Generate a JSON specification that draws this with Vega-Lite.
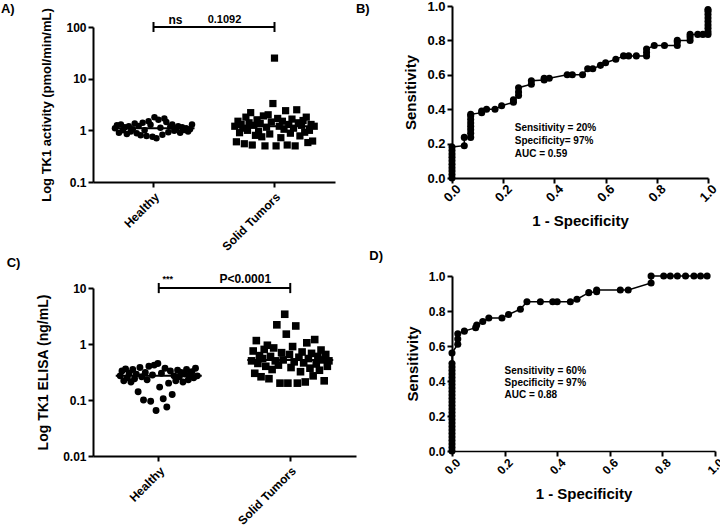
{
  "$schema": "https://vega.github.io/schema/vega-lite/v6.json",
  "background": "white",
  "padding": {"left": 0, "top": 0, "right": 0, "bottom": 0},
  "config": {
    "view": {"stroke": null},
    "axis": {"domainColor": "black", "domainWidth": 2, "tickColor": "black", "tickWidth": 2, "tickSize": 5, "grid": false,
      "labelFont": "Liberation Sans", "labelFontWeight": "bold", "labelFontSize": 12, "labelColor": "black", "labelOverlap": false, "labelFlush": false,
      "titleFont": "Liberation Sans", "titleFontWeight": "bold", "titleFontSize": 13, "titleColor": "black"},
    "title": {"font": "Liberation Sans", "fontSize": 13, "fontWeight": "bold", "anchor": "start", "color": "black", "frame": "bounds"},
    "text": {"font": "Liberation Sans", "color": "black"}
  },
  "datasets": {
    "tkA": [
      {"g":"Healthy","v":1.1},{"g":"Healthy","v":1.25},{"g":"Healthy","v":0.9},{"g":"Healthy","v":1.3},{"g":"Healthy","v":1.0},{"g":"Healthy","v":1.15},{"g":"Healthy","v":0.85},{"g":"Healthy","v":1.2},{"g":"Healthy","v":0.95},{"g":"Healthy","v":1.05},
      {"g":"Healthy","v":1.35},{"g":"Healthy","v":0.88},{"g":"Healthy","v":1.22},{"g":"Healthy","v":0.8},{"g":"Healthy","v":1.4},{"g":"Healthy","v":1.0},{"g":"Healthy","v":0.78},{"g":"Healthy","v":1.5},{"g":"Healthy","v":1.28},{"g":"Healthy","v":0.75},
      {"g":"Healthy","v":1.8},{"g":"Healthy","v":0.7},{"g":"Healthy","v":1.6},{"g":"Healthy","v":1.12},{"g":"Healthy","v":0.82},{"g":"Healthy","v":1.7},{"g":"Healthy","v":1.45},{"g":"Healthy","v":0.92},{"g":"Healthy","v":1.18},{"g":"Healthy","v":1.3},
      {"g":"Healthy","v":0.98},{"g":"Healthy","v":1.08},{"g":"Healthy","v":1.2},{"g":"Healthy","v":0.9},{"g":"Healthy","v":1.15},{"g":"Healthy","v":1.02},{"g":"Healthy","v":1.1},{"g":"Healthy","v":0.95},{"g":"Healthy","v":1.05},{"g":"Healthy","v":1.3},
      {"g":"Solid Tumors","v":1.2},{"g":"Solid Tumors","v":0.6},{"g":"Solid Tumors","v":1.5},{"g":"Solid Tumors","v":0.9},{"g":"Solid Tumors","v":1.3},{"g":"Solid Tumors","v":1.1},{"g":"Solid Tumors","v":0.55},{"g":"Solid Tumors","v":1.8},{"g":"Solid Tumors","v":1.0},{"g":"Solid Tumors","v":1.4},
      {"g":"Solid Tumors","v":2.2},{"g":"Solid Tumors","v":0.52},{"g":"Solid Tumors","v":1.25},{"g":"Solid Tumors","v":0.8},{"g":"Solid Tumors","v":1.6},{"g":"Solid Tumors","v":0.95},{"g":"Solid Tumors","v":1.35},{"g":"Solid Tumors","v":0.75},{"g":"Solid Tumors","v":1.9},{"g":"Solid Tumors","v":0.5},
      {"g":"Solid Tumors","v":1.15},{"g":"Solid Tumors","v":2.0},{"g":"Solid Tumors","v":0.85},{"g":"Solid Tumors","v":1.45},{"g":"Solid Tumors","v":3.3},{"g":"Solid Tumors","v":25},{"g":"Solid Tumors","v":0.5},{"g":"Solid Tumors","v":1.7},{"g":"Solid Tumors","v":1.2},{"g":"Solid Tumors","v":0.72},
      {"g":"Solid Tumors","v":1.5},{"g":"Solid Tumors","v":1.05},{"g":"Solid Tumors","v":2.4},{"g":"Solid Tumors","v":0.52},{"g":"Solid Tumors","v":1.3},{"g":"Solid Tumors","v":0.88},{"g":"Solid Tumors","v":1.65},{"g":"Solid Tumors","v":1.1},{"g":"Solid Tumors","v":0.5},{"g":"Solid Tumors","v":2.5},
      {"g":"Solid Tumors","v":1.4},{"g":"Solid Tumors","v":0.78},{"g":"Solid Tumors","v":1.25},{"g":"Solid Tumors","v":1.55},{"g":"Solid Tumors","v":0.92},{"g":"Solid Tumors","v":1.8},{"g":"Solid Tumors","v":0.58},{"g":"Solid Tumors","v":1.0},{"g":"Solid Tumors","v":1.3},{"g":"Solid Tumors","v":0.62},
      {"g":"Solid Tumors","v":1.2}
    ],
    "tkC": [
      {"g":"Healthy","v":0.27},{"g":"Healthy","v":0.33},{"g":"Healthy","v":0.22},{"g":"Healthy","v":0.36},{"g":"Healthy","v":0.25},{"g":"Healthy","v":0.3},{"g":"Healthy","v":0.21},{"g":"Healthy","v":0.35},{"g":"Healthy","v":0.24},{"g":"Healthy","v":0.29},
      {"g":"Healthy","v":0.14},{"g":"Healthy","v":0.38},{"g":"Healthy","v":0.26},{"g":"Healthy","v":0.1},{"g":"Healthy","v":0.31},{"g":"Healthy","v":0.23},{"g":"Healthy","v":0.4},{"g":"Healthy","v":0.095},{"g":"Healthy","v":0.28},{"g":"Healthy","v":0.42},
      {"g":"Healthy","v":0.065},{"g":"Healthy","v":0.45},{"g":"Healthy","v":0.17},{"g":"Healthy","v":0.3},{"g":"Healthy","v":0.105},{"g":"Healthy","v":0.37},{"g":"Healthy","v":0.075},{"g":"Healthy","v":0.2},{"g":"Healthy","v":0.33},{"g":"Healthy","v":0.125},
      {"g":"Healthy","v":0.27},{"g":"Healthy","v":0.22},{"g":"Healthy","v":0.34},{"g":"Healthy","v":0.26},{"g":"Healthy","v":0.31},{"g":"Healthy","v":0.21},{"g":"Healthy","v":0.29},{"g":"Healthy","v":0.35},{"g":"Healthy","v":0.23},{"g":"Healthy","v":0.28},
      {"g":"Healthy","v":0.32},{"g":"Healthy","v":0.25},{"g":"Healthy","v":0.37},{"g":"Healthy","v":0.27},
      {"g":"Solid Tumors","v":0.5},{"g":"Solid Tumors","v":0.75},{"g":"Solid Tumors","v":0.3},{"g":"Solid Tumors","v":1.15},{"g":"Solid Tumors","v":0.45},{"g":"Solid Tumors","v":0.62},{"g":"Solid Tumors","v":0.26},{"g":"Solid Tumors","v":0.55},{"g":"Solid Tumors","v":0.8},{"g":"Solid Tumors","v":0.4},
      {"g":"Solid Tumors","v":0.95},{"g":"Solid Tumors","v":0.24},{"g":"Solid Tumors","v":0.6},{"g":"Solid Tumors","v":0.35},{"g":"Solid Tumors","v":0.85},{"g":"Solid Tumors","v":0.5},{"g":"Solid Tumors","v":2.2},{"g":"Solid Tumors","v":0.42},{"g":"Solid Tumors","v":0.2},{"g":"Solid Tumors","v":0.7},
      {"g":"Solid Tumors","v":0.52},{"g":"Solid Tumors","v":3.4},{"g":"Solid Tumors","v":1.5},{"g":"Solid Tumors","v":0.2},{"g":"Solid Tumors","v":0.65},{"g":"Solid Tumors","v":0.38},{"g":"Solid Tumors","v":0.9},{"g":"Solid Tumors","v":0.48},{"g":"Solid Tumors","v":2.1},{"g":"Solid Tumors","v":0.2},
      {"g":"Solid Tumors","v":0.58},{"g":"Solid Tumors","v":0.32},{"g":"Solid Tumors","v":0.72},{"g":"Solid Tumors","v":0.46},{"g":"Solid Tumors","v":0.21},{"g":"Solid Tumors","v":1.05},{"g":"Solid Tumors","v":0.55},{"g":"Solid Tumors","v":0.37},{"g":"Solid Tumors","v":0.68},{"g":"Solid Tumors","v":0.27},
      {"g":"Solid Tumors","v":1.2},{"g":"Solid Tumors","v":0.44},{"g":"Solid Tumors","v":0.6},{"g":"Solid Tumors","v":0.34},{"g":"Solid Tumors","v":0.78},{"g":"Solid Tumors","v":0.52},{"g":"Solid Tumors","v":0.22},{"g":"Solid Tumors","v":0.65},{"g":"Solid Tumors","v":0.4},{"g":"Solid Tumors","v":0.5}
    ],
    "rocB": [
      {"f":0,"s":0},{"f":0,"s":0.02},{"f":0,"s":0.04},{"f":0,"s":0.06},{"f":0,"s":0.08},{"f":0,"s":0.1},{"f":0,"s":0.12},{"f":0,"s":0.14},{"f":0,"s":0.16},{"f":0,"s":0.18},
      {"f":0.048,"s":0.188},{"f":0.048,"s":0.236},{"f":0.073,"s":0.236},{"f":0.073,"s":0.26},{"f":0.073,"s":0.28},{"f":0.073,"s":0.3},{"f":0.073,"s":0.32},{"f":0.073,"s":0.34},{"f":0.073,"s":0.36},{"f":0.073,"s":0.37},
      {"f":0.116,"s":0.38},{"f":0.116,"s":0.39},{"f":0.135,"s":0.4},{"f":0.168,"s":0.4},{"f":0.194,"s":0.42},{"f":0.24,"s":0.44},{"f":0.24,"s":0.455},{"f":0.26,"s":0.48},{"f":0.26,"s":0.5},{"f":0.26,"s":0.525},
      {"f":0.31,"s":0.545},{"f":0.31,"s":0.565},{"f":0.36,"s":0.57},{"f":0.36,"s":0.58},{"f":0.38,"s":0.58},{"f":0.45,"s":0.6},{"f":0.47,"s":0.6},{"f":0.51,"s":0.6},{"f":0.53,"s":0.635},{"f":0.55,"s":0.635},
      {"f":0.58,"s":0.655},{"f":0.6,"s":0.67},{"f":0.64,"s":0.69},{"f":0.67,"s":0.71},{"f":0.69,"s":0.71},{"f":0.72,"s":0.71},{"f":0.76,"s":0.71},{"f":0.76,"s":0.73},{"f":0.76,"s":0.75},{"f":0.79,"s":0.77},
      {"f":0.83,"s":0.77},{"f":0.88,"s":0.77},{"f":0.88,"s":0.79},{"f":0.88,"s":0.8},{"f":0.93,"s":0.8},{"f":0.93,"s":0.82},{"f":0.93,"s":0.835},{"f":0.96,"s":0.835},{"f":0.98,"s":0.835},{"f":1,"s":0.835},
      {"f":1,"s":0.85},{"f":1,"s":0.87},{"f":1,"s":0.89},{"f":1,"s":0.91},{"f":1,"s":0.93},{"f":1,"s":0.95},{"f":1,"s":0.97},{"f":1,"s":0.98}
    ],
    "rocD": [
      {"f":0,"s":0},{"f":0,"s":0.02},{"f":0,"s":0.04},{"f":0,"s":0.06},{"f":0,"s":0.08},{"f":0,"s":0.1},{"f":0,"s":0.12},{"f":0,"s":0.14},{"f":0,"s":0.16},{"f":0,"s":0.18},
      {"f":0,"s":0.2},{"f":0,"s":0.22},{"f":0,"s":0.24},{"f":0,"s":0.26},{"f":0,"s":0.28},{"f":0,"s":0.3},{"f":0,"s":0.32},{"f":0,"s":0.34},{"f":0,"s":0.36},{"f":0,"s":0.38},
      {"f":0,"s":0.4},{"f":0,"s":0.42},{"f":0,"s":0.44},{"f":0,"s":0.46},{"f":0,"s":0.48},{"f":0,"s":0.5},{"f":0,"s":0.56},
      {"f":0.022,"s":0.61},{"f":0.022,"s":0.64},{"f":0.022,"s":0.67},{"f":0.047,"s":0.685},{"f":0.09,"s":0.705},{"f":0.094,"s":0.72},{"f":0.117,"s":0.74},{"f":0.14,"s":0.76},{"f":0.19,"s":0.76},
      {"f":0.215,"s":0.78},{"f":0.26,"s":0.81},{"f":0.285,"s":0.853},{"f":0.336,"s":0.853},{"f":0.383,"s":0.853},{"f":0.4,"s":0.853},{"f":0.45,"s":0.853},{"f":0.475,"s":0.867},{"f":0.52,"s":0.905},{"f":0.55,"s":0.91},
      {"f":0.55,"s":0.92},{"f":0.64,"s":0.92},{"f":0.67,"s":0.92},{"f":0.757,"s":0.96},{"f":0.757,"s":1.0},{"f":0.805,"s":1.0},{"f":0.83,"s":1.0},{"f":0.857,"s":1.0},{"f":0.888,"s":1.0},{"f":0.92,"s":1.0},
      {"f":0.945,"s":1.0},{"f":0.97,"s":1.0}
    ]
  },
  "spacing": -1,
  "hconcat": [
    {
      "spacing": 4,
      "vconcat": [
        {
          "width": 242, "height": 176,
          "title": {"text": "A)", "dx": -40, "offset": -10},
          "layer": [
            {
              "data": {"name": "tkA"},
              "transform": [{"filter": "datum.g == 'Healthy'"}, {"window": [{"op": "row_number", "as": "i"}]}],
              "mark": {"type": "point", "shape": "circle", "filled": true, "size": 42, "color": "black", "opacity": 1},
              "encoding": {
                "x": {"field": "g", "type": "nominal", "scale": {"domain": ["Healthy", "Solid Tumors"], "paddingInner": 0, "paddingOuter": 0},
                  "axis": {"title": null, "labelAngle": -45, "labelFontSize": 12, "labelPadding": 4}},
                "xOffset": {"field": "i", "type": "ordinal", "scale": {"range": [21, 100]}},
                "y": {"field": "v", "type": "quantitative", "scale": {"type": "log", "domain": [0.1, 100], "range": [176, 21], "nice": false},
                  "axis": {"title": "Log TK1 activity (pmol/min/mL)", "values": [0.1, 1, 10, 100], "format": "~r", "titlePadding": 12, "labelOverlap": false}}
              }
            },
            {
              "data": {"name": "tkA"},
              "transform": [{"filter": "datum.g == 'Solid Tumors'"}, {"window": [{"op": "row_number", "as": "i"}]}],
              "mark": {"type": "point", "shape": "square", "filled": true, "size": 52, "color": "black", "opacity": 1},
              "encoding": {
                "x": {"field": "g", "type": "nominal"},
                "xOffset": {"field": "i", "type": "ordinal", "scale": {"range": [20, 101]}},
                "y": {"field": "v", "type": "quantitative"}
              }
            },
            {
              "data": {"name": "tkA"},
              "mark": {"type": "tick", "color": "black", "thickness": 2, "size": 82, "opacity": 1},
              "encoding": {
                "x": {"field": "g", "type": "nominal"},
                "y": {"aggregate": "median", "field": "v", "type": "quantitative"}
              }
            },
            {
              "data": {"values": [{"g": "Healthy", "v": 100}, {"g": "Solid Tumors", "v": 100}]},
              "mark": {"type": "line", "color": "black", "strokeWidth": 2},
              "encoding": {"x": {"field": "g", "type": "nominal"}, "y": {"field": "v", "type": "quantitative"}}
            },
            {
              "data": {"values": [{"g": "Healthy", "lo": 80, "hi": 125}, {"g": "Solid Tumors", "lo": 80, "hi": 125}]},
              "mark": {"type": "rule", "color": "black", "strokeWidth": 2},
              "encoding": {"x": {"field": "g", "type": "nominal"}, "y": {"field": "lo", "type": "quantitative"}, "y2": {"field": "hi"}}
            },
            {
              "data": {"values": [{"g": "Healthy", "v": 100, "t": "ns"}]},
              "mark": {"type": "text", "dx": 22, "dy": -7, "fontSize": 12, "fontWeight": "bold"},
              "encoding": {"x": {"field": "g", "type": "nominal"}, "y": {"field": "v", "type": "quantitative"}, "text": {"field": "t"}}
            },
            {
              "data": {"values": [{"g": "Solid Tumors", "v": 100, "t": "0.1092"}]},
              "mark": {"type": "text", "dx": -50, "dy": -7, "fontSize": 11, "fontWeight": "bold"},
              "encoding": {"x": {"field": "g", "type": "nominal"}, "y": {"field": "v", "type": "quantitative"}, "text": {"field": "t"}}
            }
          ],
          "resolve": {"scale": {"xOffset": "independent"}}
        },
        {
          "width": 263, "height": 168,
          "title": {"text": "C)", "dx": -30, "offset": 3},
          "layer": [
            {
              "data": {"name": "tkC"},
              "transform": [{"filter": "datum.g == 'Healthy'"}, {"window": [{"op": "row_number", "as": "i"}]}],
              "mark": {"type": "point", "shape": "circle", "filled": true, "size": 48, "color": "black", "opacity": 1},
              "encoding": {
                "x": {"field": "g", "type": "nominal", "scale": {"domain": ["Healthy", "Solid Tumors"], "paddingInner": 0.4, "paddingOuter": 0.2},
                  "axis": {"title": null, "labelAngle": -45, "labelFontSize": 12, "labelPadding": 4}},
                "xOffset": {"field": "i", "type": "ordinal"},
                "y": {"field": "v", "type": "quantitative", "scale": {"type": "log", "domain": [0.01, 10], "nice": false},
                  "axis": {"title": "Log TK1 ELISA (ng/mL)", "values": [0.01, 0.1, 1, 10], "format": "~r", "titlePadding": 12, "titleFontSize": 14, "labelOverlap": false}}
              }
            },
            {
              "data": {"name": "tkC"},
              "transform": [{"filter": "datum.g == 'Solid Tumors'"}, {"window": [{"op": "row_number", "as": "i"}]}],
              "mark": {"type": "point", "shape": "square", "filled": true, "size": 58, "color": "black", "opacity": 1},
              "encoding": {
                "x": {"field": "g", "type": "nominal"},
                "xOffset": {"field": "i", "type": "ordinal"},
                "y": {"field": "v", "type": "quantitative"}
              }
            },
            {
              "data": {"name": "tkC"},
              "mark": {"type": "tick", "color": "black", "thickness": 2, "size": 86, "opacity": 1},
              "encoding": {
                "x": {"field": "g", "type": "nominal"},
                "y": {"aggregate": "median", "field": "v", "type": "quantitative"}
              }
            },
            {
              "data": {"values": [{"g": "Healthy", "v": 10}, {"g": "Solid Tumors", "v": 10}]},
              "mark": {"type": "line", "color": "black", "strokeWidth": 2},
              "encoding": {"x": {"field": "g", "type": "nominal"}, "y": {"field": "v", "type": "quantitative"}}
            },
            {
              "data": {"values": [{"g": "Healthy", "lo": 8.1, "hi": 12.3}, {"g": "Solid Tumors", "lo": 8.1, "hi": 12.3}]},
              "mark": {"type": "rule", "color": "black", "strokeWidth": 2},
              "encoding": {"x": {"field": "g", "type": "nominal"}, "y": {"field": "lo", "type": "quantitative"}, "y2": {"field": "hi"}}
            },
            {
              "data": {"values": [{"g": "Healthy", "v": 10, "t": "***"}]},
              "mark": {"type": "text", "dx": 9, "dy": -9, "fontSize": 9, "fontWeight": "bold"},
              "encoding": {"x": {"field": "g", "type": "nominal"}, "y": {"field": "v", "type": "quantitative"}, "text": {"field": "t"}}
            },
            {
              "data": {"values": [{"g": "Solid Tumors", "v": 10, "t": "P<0.0001"}]},
              "mark": {"type": "text", "dx": -45, "dy": -9, "fontSize": 12, "fontWeight": "bold"},
              "encoding": {"x": {"field": "g", "type": "nominal"}, "y": {"field": "v", "type": "quantitative"}, "text": {"field": "t"}}
            }
          ],
          "resolve": {"scale": {"xOffset": "independent"}}
        }
      ]
    },
    {
      "spacing": 21,
      "vconcat": [
        {
          "width": 256, "height": 172,
          "title": {"text": "B)", "dx": -48, "offset": -16},
          "data": {"name": "rocB"},
          "transform": [{"window": [{"op": "row_number", "as": "i"}]}],
          "encoding": {
            "x": {"field": "f", "type": "quantitative", "scale": {"domain": [0, 1], "nice": false},
              "axis": {"title": "1 - Specificity", "titleFontSize": 15, "values": [0, 0.2, 0.4, 0.6, 0.8, 1], "format": ".1f", "labelAngle": -45, "labelAlign": "center", "labelBaseline": "middle", "labelPadding": 10, "labelFontSize": 13, "titlePadding": 9, "labelOverlap": false}},
            "y": {"field": "s", "type": "quantitative", "scale": {"domain": [0, 1], "nice": false},
              "axis": {"title": "Sensitivity", "titleFontSize": 15, "values": [0, 0.2, 0.4, 0.6, 0.8, 1], "format": ".1f", "labelFontSize": 13, "titlePadding": 8, "labelOverlap": false}}
          },
          "layer": [
            {
              "mark": {"type": "line", "color": "black", "strokeWidth": 1.5},
              "encoding": {"order": {"field": "i"}}
            },
            {
              "mark": {"type": "point", "shape": "circle", "filled": true, "size": 50, "color": "black", "opacity": 1}
            },
            {
              "data": {"values": [{"f": 0.245, "s": 0.29, "t": "Sensitivity  = 20%"}, {"f": 0.245, "s": 0.215, "t": "Specificity= 97%"}, {"f": 0.245, "s": 0.14, "t": "AUC  = 0.59"}]},
              "mark": {"type": "text", "align": "left", "fontSize": 10, "fontWeight": "bold"},
              "encoding": {"text": {"field": "t"}}
            }
          ]
        },
        {
          "width": 263, "height": 175,
          "title": {"text": "D)", "dx": -36, "offset": 7},
          "data": {"name": "rocD"},
          "transform": [{"window": [{"op": "row_number", "as": "i"}]}],
          "encoding": {
            "x": {"field": "f", "type": "quantitative", "scale": {"domain": [0, 1], "nice": false},
              "axis": {"title": "1 - Specificity", "titleFontSize": 15, "values": [0, 0.2, 0.4, 0.6, 0.8, 1], "format": ".1f", "labelAngle": -45, "labelAlign": "center", "labelBaseline": "middle", "labelPadding": 10, "labelFontSize": 12, "titlePadding": 10, "domainWidth": 1.5, "labelOverlap": false}},
            "y": {"field": "s", "type": "quantitative", "scale": {"domain": [0, 1], "nice": false},
              "axis": {"title": "Sensitivity", "titleFontSize": 15, "values": [0, 0.2, 0.4, 0.6, 0.8, 1], "format": ".1f", "labelFontSize": 12, "titlePadding": 8, "labelOverlap": false}}
          },
          "layer": [
            {
              "mark": {"type": "line", "color": "black", "strokeWidth": 1.5},
              "encoding": {"order": {"field": "i"}}
            },
            {
              "mark": {"type": "point", "shape": "circle", "filled": true, "size": 50, "color": "black", "opacity": 1}
            },
            {
              "data": {"values": [{"f": 0.2, "s": 0.46, "t": "Sensitivity  = 60%"}, {"f": 0.2, "s": 0.39, "t": "Specificity = 97%"}, {"f": 0.2, "s": 0.32, "t": "AUC  = 0.88"}]},
              "mark": {"type": "text", "align": "left", "fontSize": 10, "fontWeight": "bold"},
              "encoding": {"text": {"field": "t"}}
            }
          ]
        }
      ]
    }
  ]
}
